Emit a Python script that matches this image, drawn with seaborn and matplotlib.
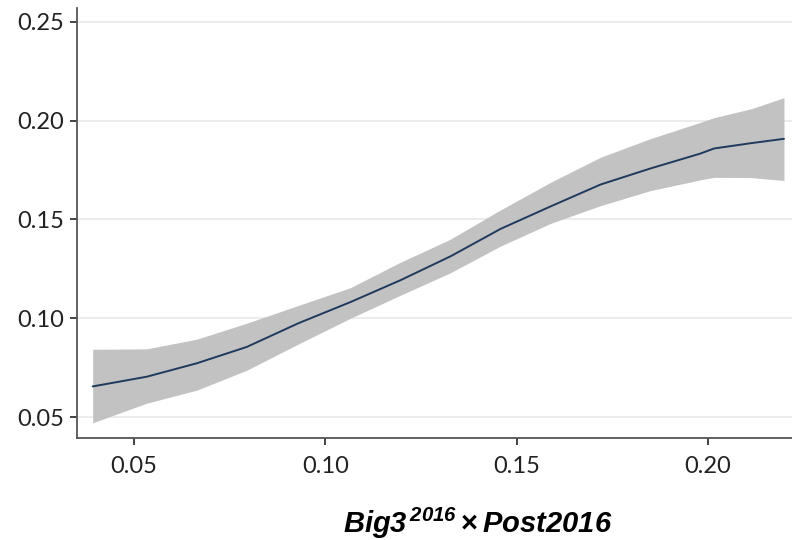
import matplotlib
matplotlib.use("Agg")
import matplotlib.pyplot as plt
import seaborn as sns
import pandas as pd

# data
x_vals = [0.0392, 0.0533, 0.0664, 0.0795, 0.0930, 0.1066, 0.1196, 0.1327, 0.1458, 0.1589, 0.1720, 0.1850, 0.1980, 0.2016, 0.2113, 0.2199]
y_fit  = [0.0655, 0.0704, 0.0772, 0.0855, 0.0975, 0.1082, 0.1192, 0.1313, 0.1452, 0.1566, 0.1677, 0.1758, 0.1833, 0.1859, 0.1886, 0.1908]
y_hi   = [0.0843, 0.0845, 0.0894, 0.0975, 0.1065, 0.1155, 0.1283, 0.1400, 0.1548, 0.1688, 0.1815, 0.1909, 0.1991, 0.2015, 0.2060, 0.2116]
y_lo   = [0.0471, 0.0570, 0.0636, 0.0737, 0.0870, 0.1000, 0.1116, 0.1230, 0.1365, 0.1480, 0.1570, 0.1646, 0.1700, 0.1713, 0.1712, 0.1697]
x_ticks = [0.05, 0.10, 0.15, 0.20]
y_ticks = [0.05, 0.10, 0.15, 0.20, 0.25]

sns.set_theme(style="white")
plt.rcParams['font.family'] = ['Lato', 'DejaVu Sans']
plt.rcParams['mathtext.fontset'] = 'custom'
plt.rcParams['mathtext.bfit'] = 'Liberation Sans:bold:italic'
plt.rcParams['mathtext.rm'] = 'Liberation Sans:bold'
plt.rcParams['mathtext.bf'] = 'Liberation Sans:bold'

df = pd.DataFrame({"x": x_vals, "y": y_fit})

fig = plt.figure(figsize=(7.92, 5.40), dpi=100)
ax = fig.add_axes([77/792, 1 - 438/540, 1 - 77/792, (438 - 8)/540])

for yt in y_ticks:
    ax.axhline(yt, color="#ececec", lw=1.4, zorder=0)

ax.fill_between(x_vals, y_lo, y_hi, color="#c2c2c2", lw=0, zorder=1)
sns.lineplot(data=df, x="x", y="y", ax=ax, color="#1f3a5c", lw=1.4, zorder=2)

ax.set_xlim(0.0351, 0.222)
ax.set_ylim(0.0394, 0.257)
ax.set_xticks(x_ticks)
ax.set_yticks(y_ticks)
ax.set_xticklabels([f"{v:.2f}" for v in x_ticks])
ax.set_yticklabels([f"{v:.2f}" for v in y_ticks])
ax.tick_params(axis="both", labelsize=17, colors="#222222", length=5, width=1.2, direction="out",
               bottom=True, left=True, pad=4)
ax.tick_params(axis="x", pad=8)
ax.set_xlabel("")
ax.set_ylabel("")
for s in ["top", "right"]:
    ax.spines[s].set_visible(False)
for s in ["left", "bottom"]:
    ax.spines[s].set_color("#555555")
    ax.spines[s].set_linewidth(1.3)

fig.text(478/792, 1 - 523/540, r"$\mathbfit{Big3}^{\,\mathbfit{2016}}\,\mathbf{\times}\,\mathbfit{Post2016}$",
         ha="center", va="center", fontsize=21, color="black")

fig.savefig("out.png", dpi=100)
